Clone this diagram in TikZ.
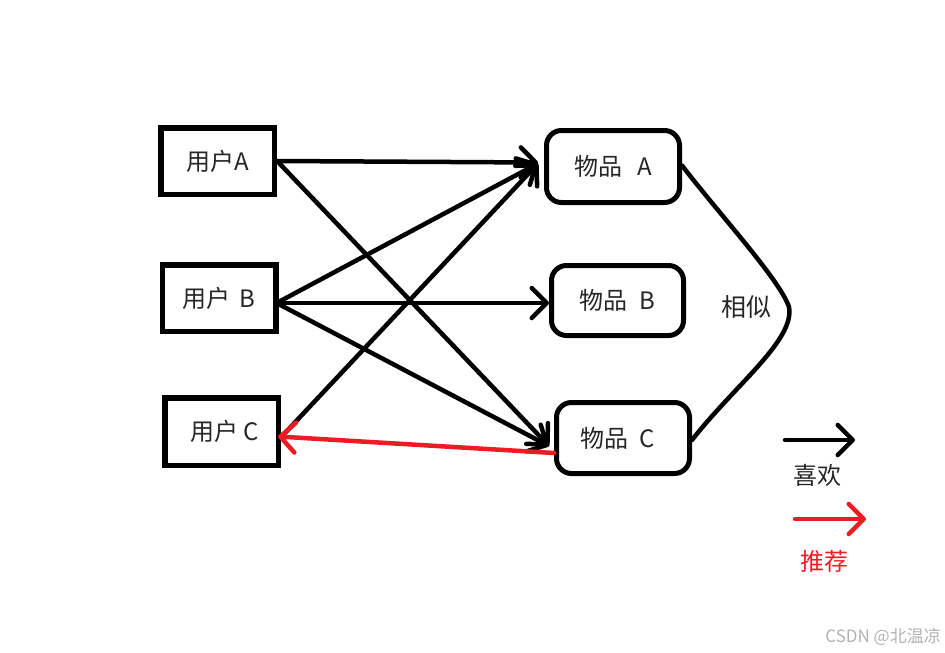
\documentclass[tikz,border=0pt]{standalone}
\usepackage{fontspec}
\setmainfont{Noto Sans CJK SC}
\newfontfamily\cjk{Noto Sans CJK SC}
\usetikzlibrary{arrows.meta,calc}
\definecolor{pred}{HTML}{ED1C24}
\definecolor{txt}{HTML}{262626}
\tikzset{
  userbox/.style={draw=black,line width=5.5pt,minimum width=113.5pt,minimum height=66.5pt,inner sep=0pt,text=txt,font=\cjk\fontsize{24}{28}\selectfont},
  itembox/.style={draw=black,line width=5pt,rounded corners=15pt,minimum width=133pt,minimum height=71pt,inner sep=0pt,text=txt,font=\cjk\fontsize{24}{28}\selectfont},
  like/.style={draw=black,line width=4.5pt,line cap=round,-{Straight Barb[length=15pt,width=30pt,round]}},
  rec/.style={draw=pred,line width=4.5pt,line cap=round,-{Straight Barb[length=15pt,width=30pt,round]}},
  lbl/.style={text=txt,font=\cjk\fontsize{24}{28}\selectfont,inner sep=0pt},
}
\begin{document}
\begin{tikzpicture}[x=1pt,y=-1pt]
\useasboundingbox (0,0) rectangle (945,653);
\node[userbox] (ua) at (217.5,161) {用户A};
\node[userbox] (ub) at (219,298) {用户\hspace{9pt}B};
\node[userbox,minimum height=67.5pt,text width=113.5pt,align=center] (uc) at (221.5,431.5) {\hspace*{6pt}用户\hspace{5pt}C};
\node[itembox,minimum height=72pt] (ia) at (613,166.5) {物品\hspace{15pt}A};
\node[itembox,minimum width=132pt,minimum height=70pt] (ib) at (617.5,300.5) {物品\hspace{12pt}B};
\node[itembox,text width=133pt,align=center] (ic) at (623,438) {物品\hspace{11pt}C\hspace*{10pt}};
% likes
\draw[like] ($(ua.east)+(0,0)$) -- ($(ia.west)+(-6,-4)$);
\draw[like] ($(ua.east)+(2,2)$) -- ($(ic.west)+(-5,8)$);
\draw[like] ($(ub.east)+(0,4)$) -- ($(ia.west)+(-6,-3)$);
\draw[like] ($(ub.east)+(0,5)$) -- ($(ib.west)+(0,2.5)$);
\draw[like] ($(ub.east)+(0,6)$) -- ($(ic.west)+(-5,8)$);
\draw[like] ($(uc.east)+(4,1.5)$) -- ($(ia.west)+(-6,-3)$);
% recommendation
\draw[rec] ($(ic.west)+(0,15)$) -- ($(uc.east)+(-3,5)$);
% similarity curve
\draw[line width=4.5pt,line cap=round] ($(ia.east)+(0,-1)$) .. controls (720,215) and (780,280) .. (789,307)
  .. controls (795,340) and (735,385) .. ($(ic.east)+(0,2)$);
\node[lbl,font=\cjk\fontsize{25}{29}\selectfont] (sim) at (746,307) {相似};
% legend
\coordinate (l1s) at (785,440);
\coordinate (l1e) at (855,440);
\draw[like] (l1s) -- (l1e);
\node[lbl] (likel) at (817,475) {喜欢};
\coordinate (l2s) at (795,519);
\coordinate (l2e) at (866,519);
\draw[rec] (l2s) -- (l2e);
\node[lbl,text=pred] (recl) at (824,561) {推荐};
\node[text=black!30,font=\cjk\fontsize{17}{20}\selectfont,inner sep=0pt,anchor=east] (wm) at (941,637) {CSDN @北温凉};
\end{tikzpicture}
\end{document}
